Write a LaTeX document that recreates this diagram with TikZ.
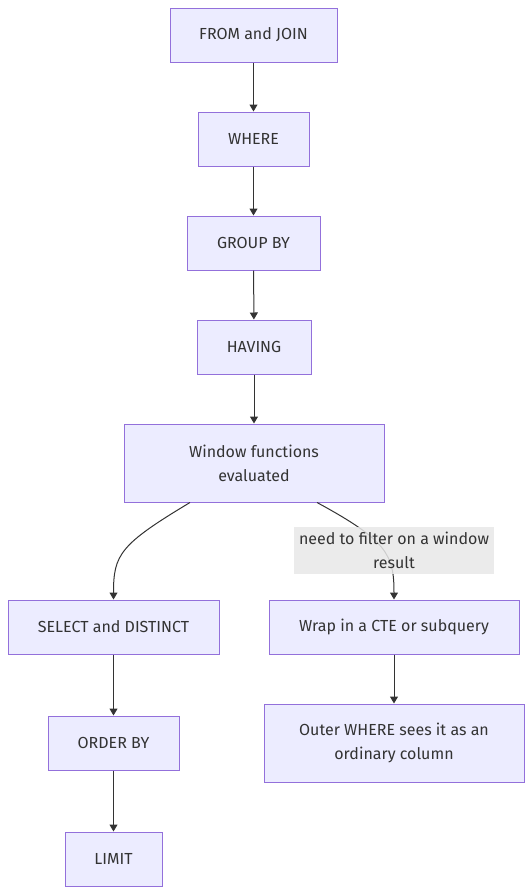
\documentclass[tikz,border=0pt]{standalone}
\usepackage{fontspec}
\setmainfont{Fira Sans}
\usetikzlibrary{arrows.meta}
\definecolor{boxFill}{HTML}{ECECFF}
\definecolor{boxLine}{HTML}{9370DB}
\definecolor{inkGrey}{HTML}{333333}
\definecolor{labelFill}{HTML}{E8E8E8}

\begin{document}
\begin{tikzpicture}
[x=1pt,y=-1pt,
  arrowDecorate/.style={-{Triangle[length=7pt,width=8pt]},draw=inkGrey,line width=1pt},%
  nodeDecorate/.style={shape=rectangle,draw=boxLine,fill=boxFill,line width=1pt,text=inkGrey,
    align=center,inner sep=0pt,font=\fontsize{16}{24}\selectfont},%
  labelDecorate/.style={fill=labelFill,fill opacity=0.85,text opacity=1,text=inkGrey,align=center,
    inner sep=0pt,minimum width=200pt,minimum height=47pt,font=\fontsize{16}{24}\selectfont}]
\useasboundingbox (0,0) rectangle (532,894);
%% nodes or vertices
\foreach \nodename/\x/\y/\w/\h/\txt in {
  from/253.5/35/167/54/{FROM and JOIN},
  where/253.5/139/111/54/{WHERE},
  group/253.5/243/133/54/{GROUP BY},
  having/254/347/114/54/{HAVING},
  window/254/463/260/78/{Window functions\\evaluated},
  select/113.5/627/211/54/{SELECT and DISTINCT},
  order/113.5/743/131/54/{ORDER BY},
  limit/113.5/859/97/54/{LIMIT},
  wrap/394/627/250/54/{Wrap in a CTE or subquery},
  outer/394/743/260/78/{Outer WHERE sees it as an\\ordinary column}}
{
  \node (\nodename) at (\x,\y) [nodeDecorate,minimum width=\w pt,minimum height=\h pt] {\txt};
}
%% edges or lines
\path
\foreach \startnode/\endnode in {from/where, where/group, group/having, having/window,
  select/order, order/limit, wrap/outer}
{
  (\startnode) edge[arrowDecorate] (\endnode)
};
\draw[arrowDecorate] ([xshift=-64pt]window.south) .. controls +(-70,42) and +(0,-45) .. (select.north);
\draw[arrowDecorate] ([xshift=63pt]window.south) .. controls +(70,38) and +(0,-45) .. (wrap.north);
\node (filterlabel) at (394,550.5) [labelDecorate] {need to filter on a window\\result};
\end{tikzpicture}
\end{document}
